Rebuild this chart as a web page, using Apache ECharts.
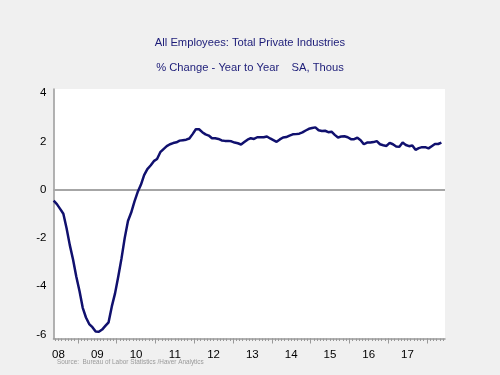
<!DOCTYPE html>
<html><head><meta charset="utf-8">
<script src="https://cdn.jsdelivr.net/npm/echarts@6/dist/echarts.min.js"></script>
<style>html,body{margin:0;padding:0;background:#f0f0f0;}#c{width:500px;height:375px;}</style>
</head><body><div id="c"></div>
<script>
// Monthly data, May 2008 .. May 2018 (% change, year to year)
var startYear = 2008, startMonth = 5;
var values = [
 -0.46,-0.6,-0.8,-1.0,-1.6,-2.3,-2.9,-3.6,-4.2,-4.9,-5.3,-5.57,-5.7,-5.88,-5.89,-5.8,-5.65,-5.5,-4.84,-4.3,
 -3.6,-2.85,-2.0,-1.3,-0.95,-0.5,-0.1,0.2,0.6,0.85,1.0,1.18,1.27,1.55,1.68,1.8,1.88,1.93,1.96,2.03,
 2.05,2.07,2.12,2.3,2.5,2.5,2.38,2.29,2.24,2.13,2.13,2.1,2.04,2.02,2.02,2.0,1.95,1.92,1.87,1.97,
 2.07,2.13,2.1,2.17,2.17,2.17,2.2,2.12,2.05,1.98,2.08,2.16,2.18,2.24,2.29,2.3,2.32,2.37,2.45,2.52,
 2.55,2.58,2.46,2.43,2.44,2.38,2.4,2.27,2.16,2.2,2.21,2.17,2.09,2.09,2.15,2.05,1.88,1.95,1.95,1.97,
 2.01,1.88,1.84,1.81,1.94,1.88,1.79,1.78,1.95,1.85,1.8,1.83,1.65,1.72,1.76,1.76,1.71,1.8,1.89,1.89,
 1.95
];
var yTicks = [-6,-4,-2,0,2,4];
var yearLabels = ['08','09','10','11','12','13','14','15','16','17'];
var titleText = 'All Employees: Total Private Industries';
var subtitleText = '% Change - Year to Year    SA, Thous';
var sourceText = 'Source:  Bureau of Labor Statistics /Haver Analytics';

var xMin = 2008.371, xMax = 2018.468;
var seriesData = values.map(function(v, i){
  return [startYear + (startMonth - 1 + i + 0.5) / 12, v];
});
var labelPos = yearLabels.map(function(s, i){ return startYear + i + 0.5; });
var yearTicks = [];
for (var y = 2009; y <= 2018; y++) yearTicks.push(y);
var monthTicks = [];
for (var k = 0; k <= 130; k++) { var t = 2008 + k / 12; if (t >= xMin && t <= xMax) monthTicks.push(t); }

var chart = echarts.init(document.getElementById('c'), null, {renderer:'canvas'});
chart.setOption({
  backgroundColor: '#f0f0f0',
  animation: false,
  title: [
    {text: titleText, left: 'center', top: 37, padding: 0, textStyle:{fontFamily:'Liberation Sans, Arial', fontSize:11.2, fontWeight:'normal', color:'#1c1c78'}},
    {text: subtitleText, left: 'center', top: 62.5, padding: 0, textStyle:{fontFamily:'Liberation Sans, Arial', fontSize:11.2, fontWeight:'normal', color:'#1c1c78'}},
    {text: sourceText, left: 57, top: 359, padding: 0, textStyle:{fontFamily:'Liberation Sans, Arial', fontSize:6.4, fontWeight:'normal', color:'#9a9a9a'}}
  ],
  grid: {left: 53.5, right: 55, top: 89, bottom: 36.5, show: true, backgroundColor: '#ffffff', borderWidth: 0},
  xAxis: [
    {type:'value', min:xMin, max:xMax, splitLine:{show:false},
     axisLine:{show:true, onZero:false, lineStyle:{color:'#999999', width:1.5}},
     axisTick:{show:true, customValues: yearTicks, length:5, lineStyle:{color:'#999999', width:1}},
     axisLabel:{customValues: labelPos, formatter:function(v){ var i = Math.round(v - 0.5 - startYear); return yearLabels[i] || ''; },
       margin:10, fontFamily:'Liberation Sans, Arial', fontSize:11.5, color:'#000000'}},
    {type:'value', min:xMin, max:xMax, position:'bottom', splitLine:{show:false},
     axisLine:{show:false, onZero:false}, axisLabel:{show:false},
     axisTick:{show:true, customValues: monthTicks, length:2.5, lineStyle:{color:'#999999', width:1}}}
  ],
  yAxis: {type:'value', min:-6.17, max:4.17, splitLine:{show:false},
    axisLine:{show:true, onZero:false, lineStyle:{color:'#999999', width:1.5}},
    axisTick:{show:false},
    axisLabel:{customValues: yTicks, margin:7, padding:[3,0,0,0], fontFamily:'Liberation Sans, Arial', fontSize:11.5, color:'#000000'}},
  series: [{
    type:'line', data: seriesData, showSymbol:false, symbol:'none',
    lineStyle:{color:'#10106e', width:2.5}, z:3,
    markLine:{silent:true, symbol:'none', label:{show:false}, lineStyle:{color:'#a6a6a6', width:2, type:'solid'}, data:[{yAxis:0}], z:2}
  }]
});
</script></body></html>
